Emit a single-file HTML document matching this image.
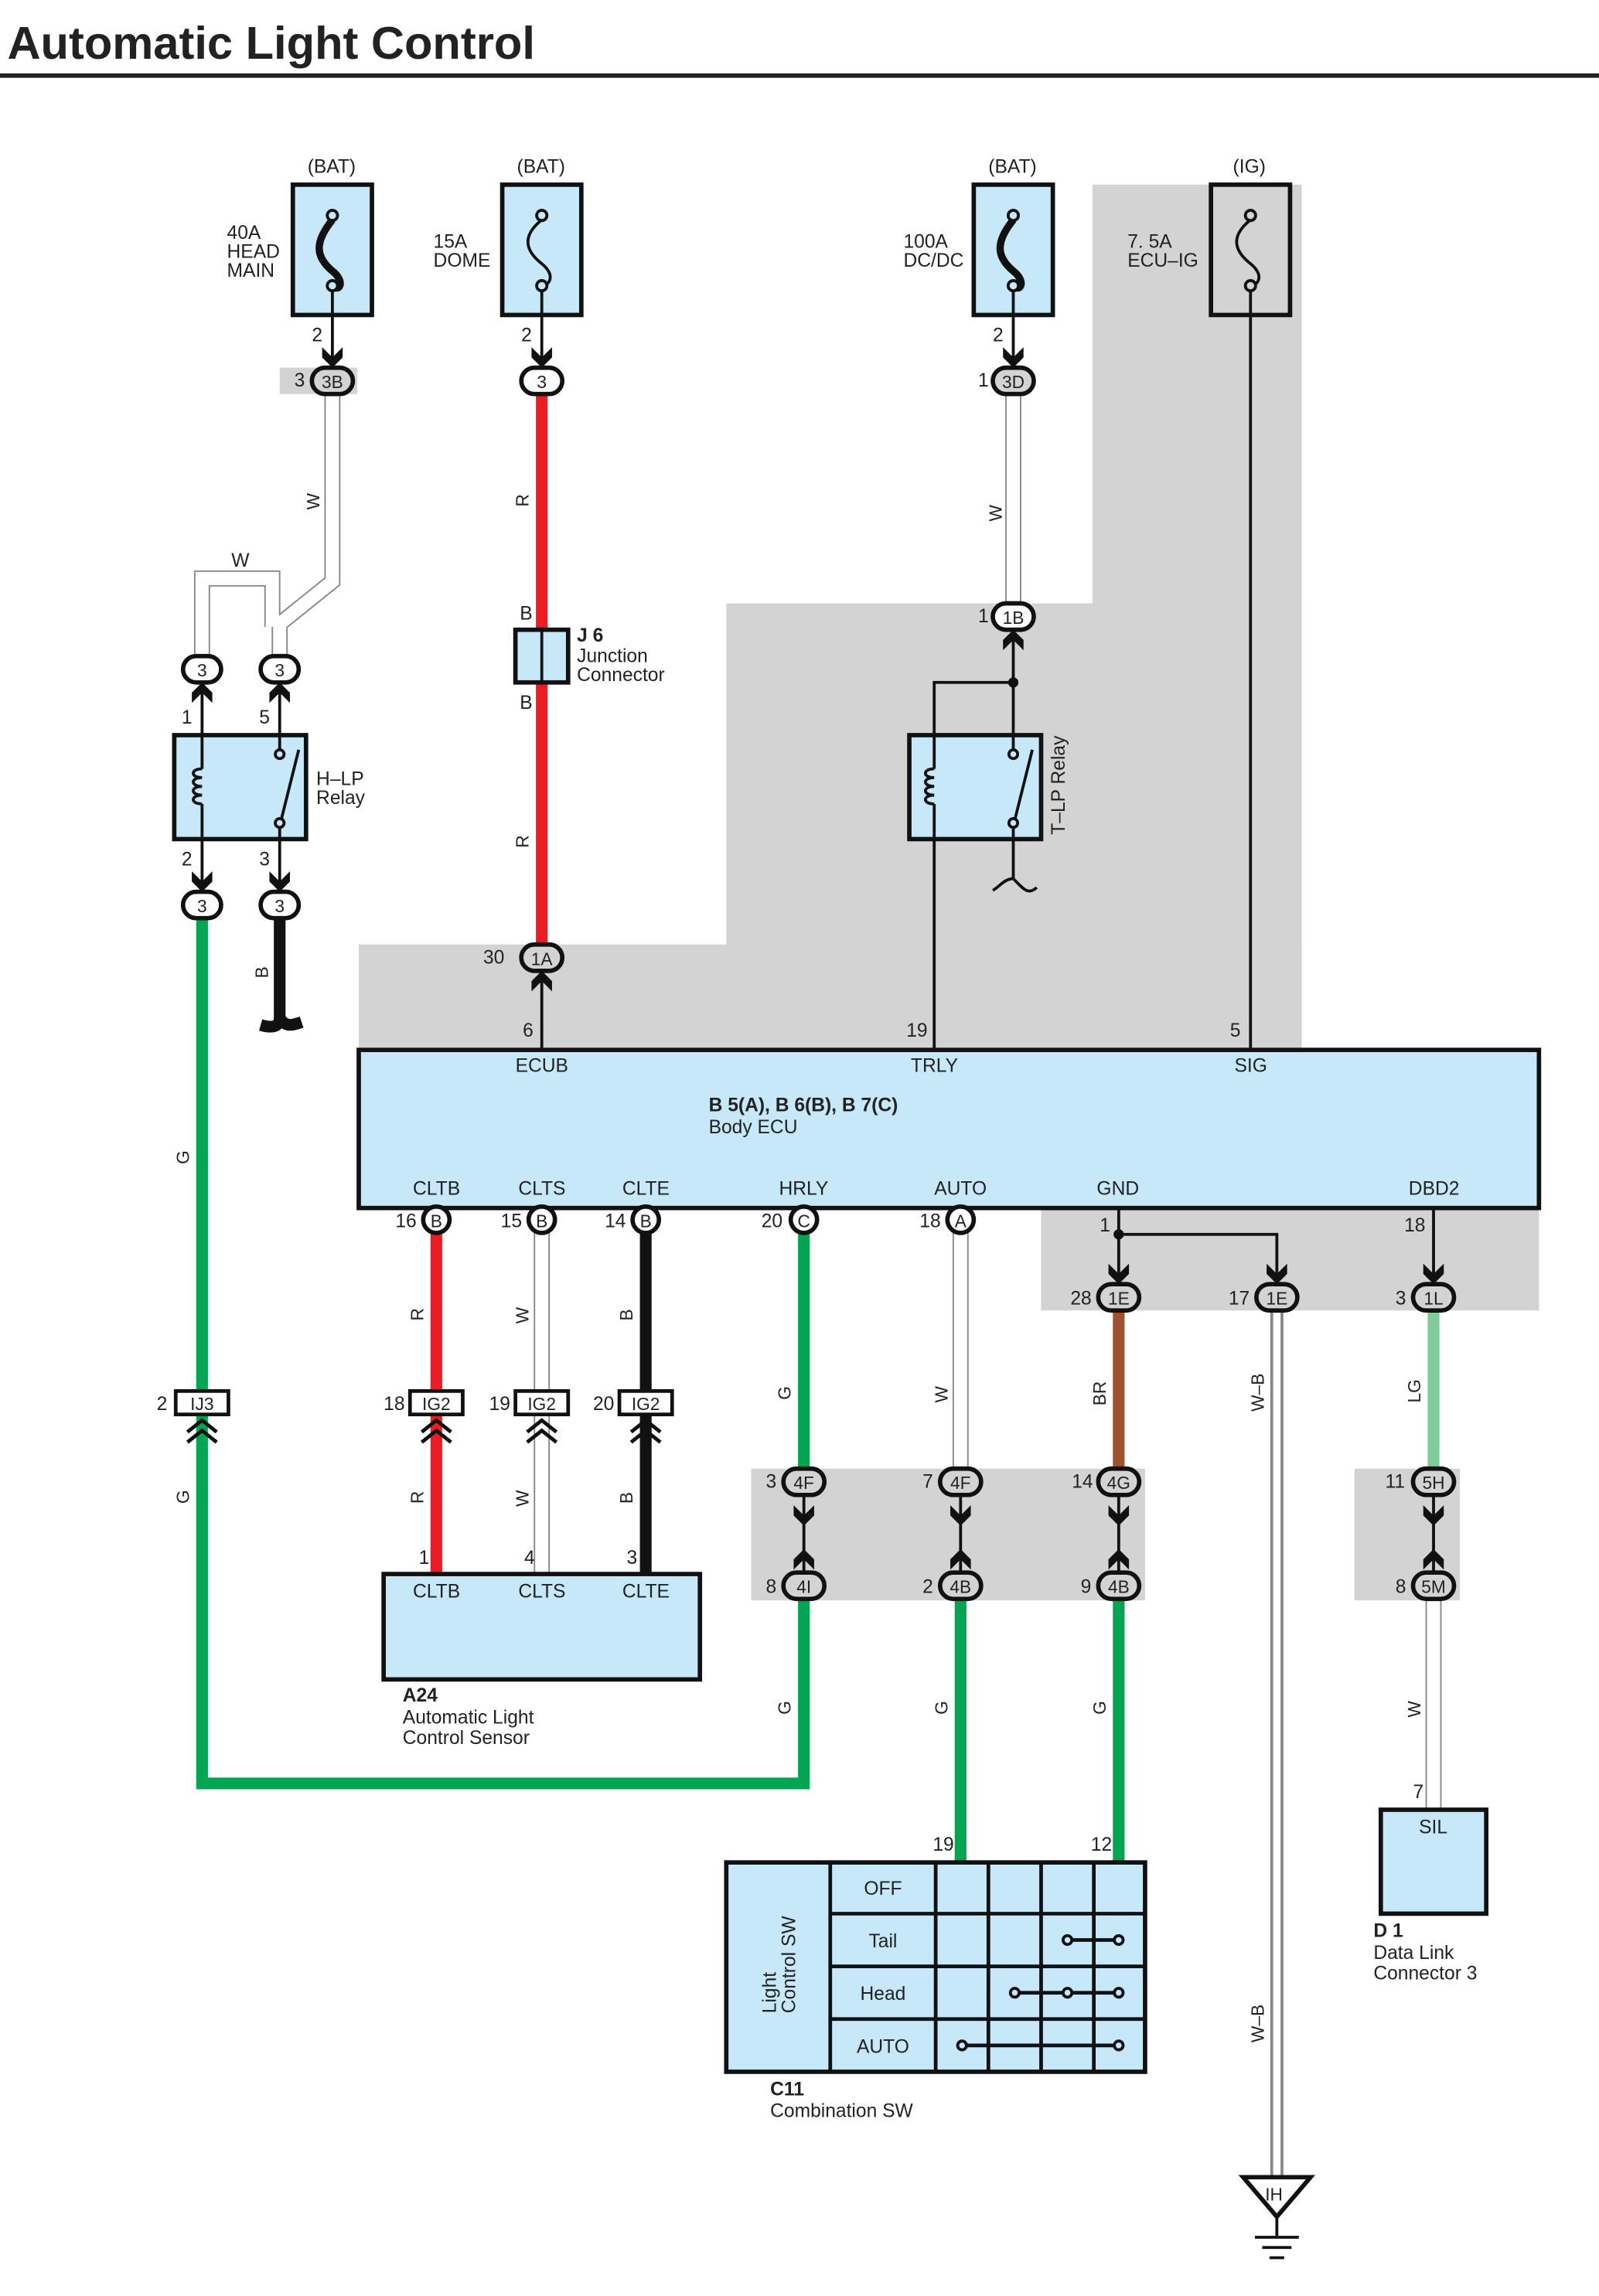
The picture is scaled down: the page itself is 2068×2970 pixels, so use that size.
<!DOCTYPE html>
<html><head><meta charset="utf-8"><style>
html,body{margin:0;padding:0;background:#fff}
svg{display:block}
text{font-family:"Liberation Sans",Arial,sans-serif;fill:#222}
</style></head><body>
<svg width="2068" height="2970" viewBox="0 0 1092 1568" xmlns="http://www.w3.org/2000/svg">
<defs>
<path id="dn" d="M-7,-14 L0,-7 L7,-14 L7,-7 L0,0 L-7,-7 Z" fill="#111"/>
<path id="up" d="M-7,14 L0,7 L7,14 L7,7 L0,0 L-7,7 Z" fill="#111"/>
</defs>
<text x="5" y="40" font-size="31.5" font-weight="bold" fill="#111">Automatic Light Control</text>
<rect x="0" y="50" width="1092" height="3" fill="#222"/>

<g fill="#d3d3d3">
<rect x="746" y="126" width="143" height="600"/>
<rect x="496" y="412" width="393" height="310"/>
<rect x="245" y="645" width="644" height="80"/>
<rect x="711" y="820" width="340" height="75"/>
<rect x="191" y="251" width="53" height="18"/>
<rect x="513" y="1003" width="269" height="90"/>
<rect x="925" y="1003" width="72" height="90"/>
</g>

<g stroke="#111" stroke-width="3">
<rect x="200" y="126" width="54" height="89" fill="#c6e8f9"/>
<rect x="343" y="126" width="54" height="89" fill="#c6e8f9"/>
<rect x="665" y="126" width="54" height="89" fill="#c6e8f9"/>
<rect x="827" y="126" width="54" height="89" fill="#d3d3d3"/>
</g>
<g fill="none" stroke="#111" stroke-width="2">
<path d="M227,150 C215,165 215,175 227,185 C236,192 232,200 227,195" stroke-width="5"/>
<path d="M370,150 C355,162 360,172 370,180 C380,188 375,195 370,195"/>
<path d="M692,150 C680,165 680,175 692,185 C701,192 697,200 692,195" stroke-width="5"/>
<path d="M854,150 C839,162 844,172 854,180 C864,188 859,195 854,195"/>
<circle cx="227" cy="147" r="3.5" fill="#c6e8f9"/><circle cx="227" cy="195" r="3.5" fill="#c6e8f9"/>
<circle cx="370" cy="147" r="3.5" fill="#c6e8f9"/><circle cx="370" cy="195" r="3.5" fill="#c6e8f9"/>
<circle cx="692" cy="147" r="3.5" fill="#c6e8f9"/><circle cx="692" cy="195" r="3.5" fill="#c6e8f9"/>
<circle cx="854" cy="147" r="3.5" fill="#d3d3d3"/><circle cx="854" cy="195" r="3.5" fill="#d3d3d3"/>
<line x1="227" y1="198" x2="227" y2="245"/>
<line x1="370" y1="198" x2="370" y2="245"/>
<line x1="692" y1="198" x2="692" y2="245"/>
<line x1="854" y1="198" x2="854" y2="717"/>
</g>
<g font-size="13">
<text x="210" y="118">(BAT)</text><text x="353" y="118">(BAT)</text><text x="675" y="118">(BAT)</text><text x="842" y="118">(IG)</text>
<text x="155" y="163">40A</text><text x="155" y="176">HEAD</text><text x="155" y="189">MAIN</text>
<text x="296" y="169">15A</text><text x="296" y="182">DOME</text>
<text x="617" y="169">100A</text><text x="617" y="182">DC/DC</text>
<text x="770" y="169">7. 5A</text><text x="770" y="182">ECU–IG</text>
<text x="213" y="233">2</text><text x="356" y="233">2</text><text x="678" y="233">2</text>
</g>
<use href="#dn" x="227" y="251"/><use href="#dn" x="370" y="251"/><use href="#dn" x="692" y="251"/>

<g fill="none" stroke="#888" stroke-width="11">
<path d="M227,269 L227,397 L191,426 L191,448"/>
<path d="M138,448 L138,395 L186,395 L186,428"/>
<path d="M692,269 L692,412"/>
<path d="M370,842 L370,950"/><path d="M370,966 L370,1075"/>
<path d="M656,842 L656,1003"/>
<path d="M979,1092 L979,1236"/>
</g>
<path d="M872,895 L872,1487" stroke="#888" stroke-width="9" fill="none"/>
<g fill="none" stroke="#fff" stroke-width="9">
<path d="M227,269 L227,397 L191,426 L191,448"/>
<path d="M138,448 L138,395 L186,395 L186,428"/>
<path d="M692,269 L692,412"/>
<path d="M370,842 L370,950"/><path d="M370,966 L370,1075"/>
<path d="M656,842 L656,1003"/>
<path d="M979,1092 L979,1236"/>
</g>
<path d="M872,895 L872,1487" stroke="#fff" stroke-width="5" fill="none"/>
<text x="158" y="387" font-size="13">W</text>

<g fill="none" stroke-width="8">
<path d="M370,269 L370,430 M370,466 L370,645" stroke="#ed1c24"/>
<path d="M138,627 L138,950 M138,966 L138,1218 L549,1218 L549,1092" stroke="#00a651"/>
<path d="M191,627 L191,695 C191,702 185,702 178,700 M191,695 C195,702 200,700 206,698" stroke="#111"/>
<path d="M298,842 L298,950 M298,966 L298,1075" stroke="#ed1c24"/>
<path d="M441,842 L441,950 M441,966 L441,1075" stroke="#111"/>
<path d="M549,842 L549,1003" stroke="#00a651"/>
<path d="M656,1092 L656,1272" stroke="#00a651"/>
<path d="M764,895 L764,1003" stroke="#a0522d"/>
<path d="M764,1092 L764,1272" stroke="#00a651"/>
<path d="M979,895 L979,1003" stroke="#7dcc9a"/>
</g>
<rect x="352" y="430" width="36" height="36" fill="#c6e8f9" stroke="#111" stroke-width="3"/>
<line x1="370" y1="430" x2="370" y2="466" stroke="#111" stroke-width="2"/>
<g font-size="13"><text x="355" y="423">B</text><text x="355" y="484">B</text>
<text x="394" y="438" font-weight="bold">J 6</text><text x="394" y="452">Junction</text><text x="394" y="465">Connector</text></g>

<rect x="119" y="502" width="90" height="71" fill="#c6e8f9" stroke="#111" stroke-width="3"/>
<g fill="none" stroke="#111" stroke-width="2">
<line x1="138" y1="466" x2="138" y2="525"/><path d="M138,525 c-8,0 -8,6 0,6 c-8,0 -8,6 0,6 c-8,0 -8,6 0,6 c-8,0 -8,6 0,6"/>
<line x1="138" y1="549" x2="138" y2="609"/>
<line x1="191" y1="466" x2="191" y2="512"/><circle cx="191" cy="515" r="3"/><line x1="192" y1="560" x2="204" y2="512"/><circle cx="191" cy="562" r="3"/><line x1="191" y1="565" x2="191" y2="609"/>
</g>
<g font-size="13"><text x="124" y="494">1</text><text x="177" y="494">5</text><text x="124" y="591">2</text><text x="177" y="591">3</text>
<text x="216" y="536">H–LP</text><text x="216" y="549">Relay</text></g>
<use href="#up" x="138" y="466"/><use href="#up" x="191" y="466"/>
<use href="#dn" x="138" y="609"/><use href="#dn" x="191" y="609"/>

<rect x="621" y="502" width="90" height="71" fill="#c6e8f9" stroke="#111" stroke-width="3"/>
<g fill="none" stroke="#111" stroke-width="2">
<line x1="692" y1="430" x2="692" y2="512"/><path d="M692,466 L638,466 L638,525"/><path d="M638,525 c-8,0 -8,6 0,6 c-8,0 -8,6 0,6 c-8,0 -8,6 0,6 c-8,0 -8,6 0,6"/><line x1="638" y1="549" x2="638" y2="717"/>
<circle cx="692" cy="515" r="3"/><line x1="693" y1="560" x2="705" y2="512"/><circle cx="692" cy="562" r="3"/>
<path d="M692,565 L692,600 C686,600 682,606 678,608 M692,600 C698,606 702,612 708,606"/>
</g>
<circle cx="692" cy="466" r="3.5" fill="#111"/>
<text font-size="13" transform="translate(727,570) rotate(-90)">T–LP Relay</text>
<use href="#up" x="692" y="430"/>
<use href="#up" x="370" y="663"/><line x1="370" y1="670" x2="370" y2="717" stroke="#111" stroke-width="2"/>

<rect x="245" y="717" width="806" height="108" fill="#c6e8f9" stroke="#111" stroke-width="3"/>
<g font-size="13">
<text x="357" y="708">6</text><text x="619" y="708">19</text><text x="840" y="708">5</text>
<text x="352" y="732">ECUB</text><text x="622" y="732">TRLY</text><text x="843" y="732">SIG</text>
<text x="484" y="759" font-weight="bold">B 5(A), B 6(B), B 7(C)</text><text x="484" y="774">Body ECU</text>
<text x="282" y="816">CLTB</text><text x="354" y="816">CLTS</text><text x="425" y="816">CLTE</text><text x="532" y="816">HRLY</text><text x="638" y="816">AUTO</text><text x="749" y="816">GND</text><text x="962" y="816">DBD2</text>
<text x="330" y="658">30</text>
</g>
<g fill="none" stroke="#111" stroke-width="2">
<path d="M764,825 L764,870 M764,843 L872,843 L872,870 M979,825 L979,870"/>
</g>
<circle cx="764" cy="843" r="3.5" fill="#111"/>
<use href="#dn" x="764" y="877"/><use href="#dn" x="872" y="877"/><use href="#dn" x="979" y="877"/>
<g font-size="13"><text x="751" y="841">1</text><text x="959" y="841">18</text></g>

<g fill="none" stroke="#111" stroke-width="2"><path d="M549,1021 L549,1074 M656,1021 L656,1074 M764,1021 L764,1074 M979,1021 L979,1074"/></g>
<use href="#dn" x="549" y="1042"/><use href="#up" x="549" y="1058"/>
<use href="#dn" x="656" y="1042"/><use href="#up" x="656" y="1058"/>
<use href="#dn" x="764" y="1042"/><use href="#up" x="764" y="1058"/>
<use href="#dn" x="979" y="1042"/><use href="#up" x="979" y="1058"/>

<g stroke="#111" stroke-width="3" font-size="12" text-anchor="middle">
<rect x="213" y="251" width="28" height="18" rx="9" fill="#d3d3d3"/><text x="227" y="265" stroke="none">3B</text>
<rect x="356" y="251" width="28" height="18" rx="9" fill="#fff"/><text x="370" y="265" stroke="none">3</text>
<rect x="678" y="251" width="28" height="18" rx="9" fill="#d3d3d3"/><text x="692" y="265" stroke="none">3D</text>
<rect x="678" y="412" width="28" height="18" rx="9" fill="#fff"/><text x="692" y="426" stroke="none">1B</text>
<rect x="125" y="448" width="26" height="18" rx="9" fill="#fff"/><text x="138" y="462" stroke="none">3</text>
<rect x="178" y="448" width="26" height="18" rx="9" fill="#fff"/><text x="191" y="462" stroke="none">3</text>
<rect x="125" y="609" width="26" height="18" rx="9" fill="#fff"/><text x="138" y="623" stroke="none">3</text>
<rect x="178" y="609" width="26" height="18" rx="9" fill="#fff"/><text x="191" y="623" stroke="none">3</text>
<rect x="356" y="645" width="28" height="18" rx="9" fill="#d3d3d3"/><text x="370" y="659" stroke="none">1A</text>
<rect x="289" y="824" width="18" height="18" rx="9" fill="#fff"/><text x="298" y="838" stroke="none">B</text>
<rect x="361" y="824" width="18" height="18" rx="9" fill="#fff"/><text x="370" y="838" stroke="none">B</text>
<rect x="432" y="824" width="18" height="18" rx="9" fill="#fff"/><text x="441" y="838" stroke="none">B</text>
<rect x="540" y="824" width="18" height="18" rx="9" fill="#fff"/><text x="549" y="838" stroke="none">C</text>
<rect x="647" y="824" width="18" height="18" rx="9" fill="#fff"/><text x="656" y="838" stroke="none">A</text>
<rect x="750" y="877" width="28" height="18" rx="9" fill="#d3d3d3"/><text x="764" y="891" stroke="none">1E</text>
<rect x="858" y="877" width="28" height="18" rx="9" fill="#d3d3d3"/><text x="872" y="891" stroke="none">1E</text>
<rect x="965" y="877" width="28" height="18" rx="9" fill="#d3d3d3"/><text x="979" y="891" stroke="none">1L</text>
<rect x="535" y="1003" width="28" height="18" rx="9" fill="#d3d3d3"/><text x="549" y="1017" stroke="none">4F</text>
<rect x="642" y="1003" width="28" height="18" rx="9" fill="#d3d3d3"/><text x="656" y="1017" stroke="none">4F</text>
<rect x="750" y="1003" width="28" height="18" rx="9" fill="#d3d3d3"/><text x="764" y="1017" stroke="none">4G</text>
<rect x="965" y="1003" width="28" height="18" rx="9" fill="#d3d3d3"/><text x="979" y="1017" stroke="none">5H</text>
<rect x="535" y="1074" width="28" height="18" rx="9" fill="#d3d3d3"/><text x="549" y="1088" stroke="none">4I</text>
<rect x="642" y="1074" width="28" height="18" rx="9" fill="#d3d3d3"/><text x="656" y="1088" stroke="none">4B</text>
<rect x="750" y="1074" width="28" height="18" rx="9" fill="#d3d3d3"/><text x="764" y="1088" stroke="none">4B</text>
<rect x="965" y="1074" width="28" height="18" rx="9" fill="#d3d3d3"/><text x="979" y="1088" stroke="none">5M</text>
<rect x="120" y="950" width="36" height="16" fill="#fff" stroke-width="2.5"/><text x="138" y="963" stroke="none">IJ3</text>
<rect x="280" y="950" width="36" height="16" fill="#fff" stroke-width="2.5"/><text x="298" y="963" stroke="none">IG2</text>
<rect x="352" y="950" width="36" height="16" fill="#fff" stroke-width="2.5"/><text x="370" y="963" stroke="none">IG2</text>
<rect x="423" y="950" width="36" height="16" fill="#fff" stroke-width="2.5"/><text x="441" y="963" stroke="none">IG2</text>
</g>
<g fill="none" stroke="#111" stroke-width="2.5">
<path d="M128,978 L138,970 L148,978 M128,985 L138,977 L148,985"/>
<path d="M288,978 L298,970 L308,978 M288,985 L298,977 L308,985"/>
<path d="M360,978 L370,970 L380,978 M360,985 L370,977 L380,985"/>
<path d="M431,978 L441,970 L451,978 M431,985 L441,977 L451,985"/>
</g>

<g font-size="13">
<text x="201" y="264">3</text><text x="668" y="264">1</text><text x="668" y="425">1</text>
<text x="270" y="838">16</text><text x="342" y="838">15</text><text x="413" y="838">14</text><text x="520" y="838">20</text><text x="628" y="838">18</text>
<text x="731" y="891">28</text><text x="839" y="891">17</text><text x="953" y="891">3</text>
<text x="107" y="963">2</text><text x="262" y="963">18</text><text x="334" y="963">19</text><text x="405" y="963">20</text>
<text x="523" y="1016">3</text><text x="630" y="1016">7</text><text x="732" y="1016">14</text><text x="946" y="1016">11</text>
<text x="523" y="1088">8</text><text x="630" y="1088">2</text><text x="738" y="1088">9</text><text x="953" y="1088">8</text>
<text x="286" y="1068">1</text><text x="358" y="1068">4</text><text x="428" y="1068">3</text>
<text x="637" y="1264">19</text><text x="745" y="1264">12</text><text x="965" y="1228">7</text>
</g>
<g font-size="12">
<text transform="translate(218,348) rotate(-90)">W</text>
<text transform="translate(361,346) rotate(-90)">R</text>
<text transform="translate(361,579) rotate(-90)">R</text>
<text transform="translate(684,356) rotate(-90)">W</text>
<text transform="translate(183,668) rotate(-90)">B</text>
<text transform="translate(129,795) rotate(-90)">G</text>
<text transform="translate(129,1027) rotate(-90)">G</text>
<text transform="translate(289,902) rotate(-90)">R</text>
<text transform="translate(361,904) rotate(-90)">W</text>
<text transform="translate(432,902) rotate(-90)">B</text>
<text transform="translate(289,1027) rotate(-90)">R</text>
<text transform="translate(361,1029) rotate(-90)">W</text>
<text transform="translate(432,1027) rotate(-90)">B</text>
<text transform="translate(540,956) rotate(-90)">G</text>
<text transform="translate(647,958) rotate(-90)">W</text>
<text transform="translate(755,960) rotate(-90)">BR</text>
<text transform="translate(863,964) rotate(-90)">W–B</text>
<text transform="translate(970,958) rotate(-90)">LG</text>
<text transform="translate(540,1171) rotate(-90)">G</text>
<text transform="translate(647,1171) rotate(-90)">G</text>
<text transform="translate(755,1171) rotate(-90)">G</text>
<text transform="translate(970,1173) rotate(-90)">W</text>
<text transform="translate(863,1395) rotate(-90)">W–B</text>
</g>

<rect x="262" y="1075" width="216" height="72" fill="#c6e8f9" stroke="#111" stroke-width="3"/>
<g font-size="13"><text x="282" y="1091">CLTB</text><text x="354" y="1091">CLTS</text><text x="425" y="1091">CLTE</text>
<text x="275" y="1162" font-weight="bold">A24</text><text x="275" y="1177">Automatic Light</text><text x="275" y="1191">Control Sensor</text></g>

<rect x="943" y="1236" width="72" height="71" fill="#c6e8f9" stroke="#111" stroke-width="3"/>
<g font-size="13"><text x="969" y="1252">SIL</text>
<text x="938" y="1323" font-weight="bold">D 1</text><text x="938" y="1338">Data Link</text><text x="938" y="1352">Connector 3</text></g>

<rect x="496" y="1272" width="286" height="143" fill="#c6e8f9" stroke="#111" stroke-width="3"/>
<g stroke="#111" stroke-width="2.5" fill="none">
<line x1="567" y1="1272" x2="567" y2="1415"/><line x1="639" y1="1272" x2="639" y2="1415"/><line x1="675" y1="1272" x2="675" y2="1415"/><line x1="711" y1="1272" x2="711" y2="1415"/><line x1="747" y1="1272" x2="747" y2="1415"/>
<line x1="567" y1="1307" x2="782" y2="1307"/><line x1="567" y1="1343" x2="782" y2="1343"/><line x1="567" y1="1379" x2="782" y2="1379"/>
<line x1="729" y1="1325" x2="764" y2="1325"/><line x1="693" y1="1361" x2="764" y2="1361"/><line x1="657" y1="1397" x2="764" y2="1397"/>
</g>
<g stroke="#111" stroke-width="2" fill="#c6e8f9">
<circle cx="729" cy="1325" r="3"/><circle cx="764" cy="1325" r="3"/>
<circle cx="693" cy="1361" r="3"/><circle cx="729" cy="1361" r="3"/><circle cx="764" cy="1361" r="3"/>
<circle cx="657" cy="1397" r="3"/><circle cx="764" cy="1397" r="3"/>
</g>
<g font-size="13" text-anchor="middle"><text x="603" y="1294">OFF</text><text x="603" y="1330">Tail</text><text x="603" y="1366">Head</text><text x="603" y="1402">AUTO</text></g>
<g font-size="13"><text transform="translate(530,1375) rotate(-90)">Light</text><text transform="translate(543,1375) rotate(-90)">Control SW</text>
<text x="526" y="1431" font-weight="bold">C11</text><text x="526" y="1446">Combination SW</text></g>

<path d="M849,1487 L895,1487 L872,1514 Z" fill="#fff" stroke="#111" stroke-width="3"/>
<text x="864" y="1503" font-size="12">IH</text>
<g stroke="#111" stroke-width="2"><line x1="872" y1="1514" x2="872" y2="1527"/><line x1="857" y1="1528" x2="887" y2="1528"/><line x1="862" y1="1535" x2="882" y2="1535"/><line x1="867" y1="1542" x2="877" y2="1542"/></g>
</svg>
</body></html>
